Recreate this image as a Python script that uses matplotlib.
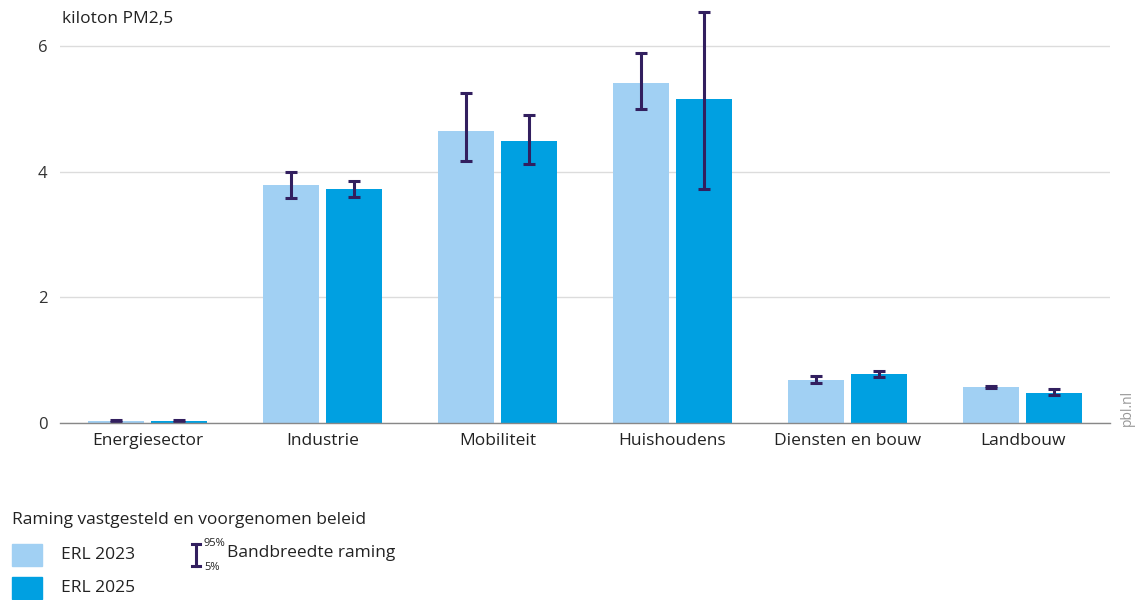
import matplotlib
matplotlib.use("Agg")
import matplotlib.pyplot as plt
import numpy as np
from matplotlib.patches import Rectangle
from matplotlib.lines import Line2D

plt.rcParams['font.family'] = ['Open Sans', 'DejaVu Sans']

categories = ["Energiesector", "Industrie", "Mobiliteit", "Huishoudens",
              "Diensten en bouw", "Landbouw"]
erl2023 = [0.03, 3.79, 4.65, 5.41, 0.68, 0.57]
erl2023_p5 = [0.02, 3.58, 4.17, 5.00, 0.64, 0.56]
erl2023_p95 = [0.04, 4.00, 5.25, 5.89, 0.75, 0.59]
erl2025 = [0.03, 3.72, 4.49, 5.16, 0.78, 0.48]
erl2025_p5 = [0.02, 3.60, 4.12, 3.72, 0.73, 0.45]
erl2025_p95 = [0.04, 3.85, 4.90, 6.54, 0.83, 0.54]
yticks = [0, 2, 4, 6]

c_light = "#a1d0f3"
c_dark = "#00a0e1"
c_err = "#321f5f"
c_text = "#222222"
fs = 12.5

fig = plt.figure(figsize=(11.37, 6.0), dpi=100)
ax = fig.add_axes([60 / 1137, 1 - 423 / 600, 1050 / 1137, 413 / 600])

x = np.arange(len(categories))
w = 0.32
gap = 0.035
ax.bar(x - w / 2 - gap / 2, erl2023, width=w, color=c_light, zorder=2)
ax.bar(x + w / 2 + gap / 2, erl2025, width=w, color=c_dark, zorder=2)

for xs, v, lo, hi in [(x - w / 2 - gap / 2, erl2023, erl2023_p5, erl2023_p95),
                      (x + w / 2 + gap / 2, erl2025, erl2025_p5, erl2025_p95)]:
    v = np.array(v); lo = np.array(lo); hi = np.array(hi)
    ax.errorbar(xs, v, yerr=[v - lo, hi - v], fmt="none", ecolor=c_err,
                elinewidth=2.2, capsize=4.5, capthick=2.2, zorder=3)

ax.set_xlim(-0.5, len(categories) - 0.5)
ax.set_ylim(0, 6.57)
ax.set_yticks(yticks)
ax.set_yticklabels([str(t) for t in yticks], fontsize=12, color="#333333")
ax.set_xticks(x)
ax.set_xticklabels(categories, fontsize=fs, color=c_text)
ax.tick_params(axis="both", length=0)
ax.tick_params(axis="y", pad=9)
ax.tick_params(axis="x", pad=7)
ax.grid(axis="y", color="#dcdcdc", linewidth=1, zorder=0)
for s in ["top", "right", "left"]:
    ax.spines[s].set_visible(False)
ax.spines["bottom"].set_color("#888888")
ax.spines["bottom"].set_linewidth(1)
ax.spines["bottom"].set_zorder(4)

fig.text(62 / 1137, 1 - 19 / 600, "kiloton PM2,5", fontsize=fs, color=c_text,
         va="center", ha="left")
fig.text(1127 / 1137, 1 - 408 / 600, "pbl.nl", fontsize=10, color="#999999",
         rotation=90, va="center", ha="center")

# Legend
fig.text(12 / 1137, 1 - 520 / 600, "Raming vastgesteld en voorgenomen beleid",
         fontsize=fs, color=c_text, va="center", ha="left")
for i, (col, lab) in enumerate([(c_light, "ERL 2023"), (c_dark, "ERL 2025")]):
    yc = 555 + i * 33
    fig.patches.append(Rectangle((12 / 1137, 1 - (yc + 11) / 600), 30 / 1137, 22 / 600,
                                 transform=fig.transFigure, color=col))
    fig.text(61 / 1137, 1 - yc / 600, lab, fontsize=fs, color=c_text,
             va="center", ha="left")

ex = 196 / 1137
fig.add_artist(Line2D([ex, ex], [1 - 544 / 600, 1 - 566 / 600], color=c_err, lw=2.2,
                      transform=fig.transFigure))
for yy in (544, 566):
    fig.add_artist(Line2D([ex - 4 / 1137, ex + 4 / 1137], [1 - yy / 600, 1 - yy / 600],
                          color=c_err, lw=2.2, transform=fig.transFigure))
fig.text(204 / 1137, 1 - 544 / 600, "95%", fontsize=8, color=c_text,
         va="center", ha="left")
fig.text(204 / 1137, 1 - 567 / 600, "5%", fontsize=8, color=c_text,
         va="center", ha="left")
fig.text(227 / 1137, 1 - 553 / 600, "Bandbreedte raming", fontsize=fs,
         color=c_text, va="center", ha="left")

fig.savefig("out.png", dpi=100, facecolor="white")
